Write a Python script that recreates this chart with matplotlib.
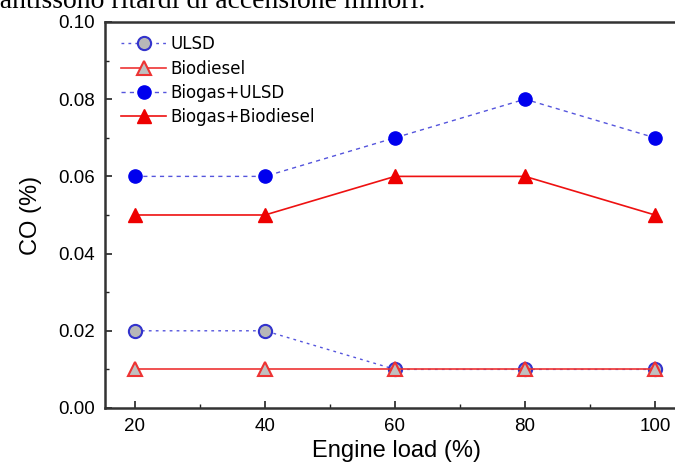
import numpy as np
import matplotlib.pyplot as plt

plt.rcParams['font.family'] = ['Liberation Sans', 'DejaVu Sans']

load = [20, 40, 60, 80, 100]
ulsd = [0.02, 0.02, 0.01, 0.01, 0.01]
biodiesel = [0.01, 0.01, 0.01, 0.01, 0.01]
biogas_ulsd = [0.06, 0.06, 0.07, 0.08, 0.07]
biogas_biodiesel = [0.05, 0.05, 0.06, 0.06, 0.05]

fig = plt.figure(figsize=(6.75, 4.71), dpi=100)
ax = fig.add_axes([0.1556, 0.1338, 0.863, 0.8195])

ax.plot(load, ulsd, color='#5555dd', linestyle=(0, (2, 3)), linewidth=1.0,
        marker='o', markersize=9.5, markerfacecolor='#b8b8b8',
        markeredgecolor='#3333cc', markeredgewidth=1.5, label='ULSD')
ax.plot(load, biodiesel, color='#ee3333', linestyle='-', linewidth=1.2,
        marker='^', markersize=10.5, markerfacecolor='#c0c0c0',
        markeredgecolor='#ee3333', markeredgewidth=1.5, label='Biodiesel')
ax.plot(load, biogas_ulsd, color='#5555dd', linestyle=(0, (3, 3)), linewidth=1.0,
        marker='o', markersize=9.5, markerfacecolor='#0000ee',
        markeredgecolor='#0000ee', label='Biogas+ULSD')
ax.plot(load, biogas_biodiesel, color='#ee1111', linestyle='-', linewidth=1.2,
        marker='^', markersize=10.5, markerfacecolor='#ee0000',
        markeredgecolor='#ee0000', label='Biogas+Biodiesel')

ax.set_xlim(15.4, 105)
ax.set_ylim(0, 0.10)
ax.set_xticks([20, 40, 60, 80, 100])
ax.set_xticks([30, 50, 70, 90], minor=True)
ax.set_yticks([0.00, 0.02, 0.04, 0.06, 0.08, 0.10])
ax.set_yticks([0.01, 0.03, 0.05, 0.07, 0.09], minor=True)
ax.yaxis.set_major_formatter(plt.FormatStrFormatter('%.2f'))
ax.tick_params(which='both', direction='in', labelsize=13.5, color='#222222')
ax.tick_params(which='major', length=5, width=1.2, pad=7)
ax.tick_params(which='minor', length=3, width=1.0)
for s in ax.spines.values():
    s.set_linewidth(1.8)
    s.set_color('#333333')

ax.set_xlabel('Engine load (%)', fontsize=17, labelpad=4)
ax.set_ylabel('CO (%)', fontsize=17, labelpad=12)

ax.legend(loc='upper left', frameon=False, prop={'family': 'DejaVu Sans', 'size': 12},
          handlelength=2.7, borderaxespad=0.4, labelspacing=0.38, handletextpad=0.25,
          bbox_to_anchor=(0.005, 1.0))

fig.text(-0.033, 0.983, 'mantissono ritardi di accensione minori.', fontsize=20,
         family=['Liberation Serif', 'DejaVu Serif'], va='baseline', ha='left')

fig.savefig('out.png', dpi=100)
